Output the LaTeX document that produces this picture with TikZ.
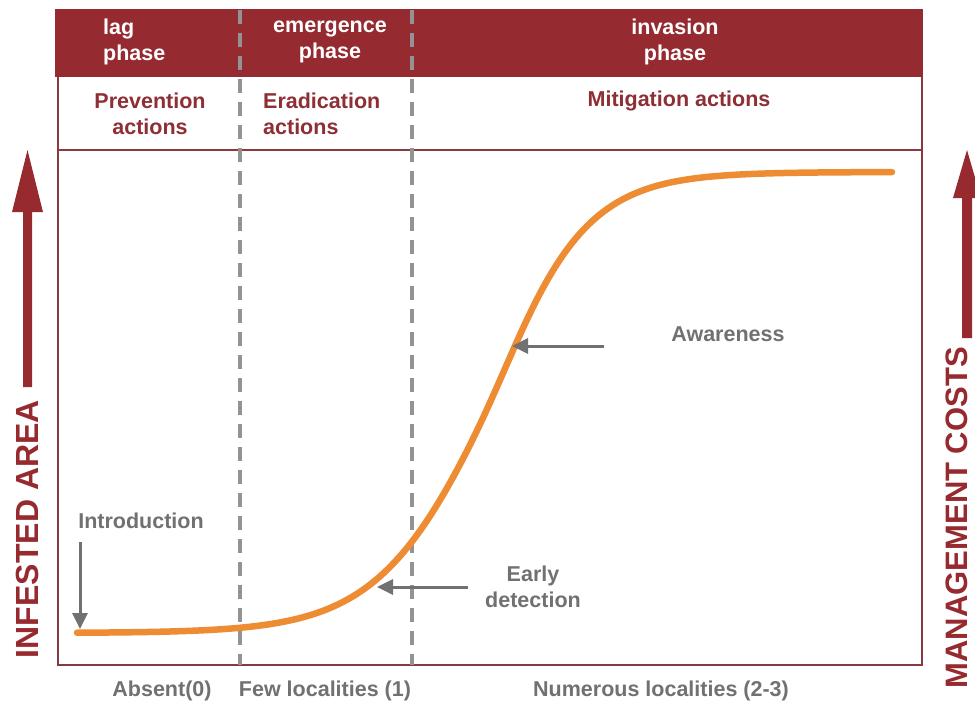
\documentclass[tikz,border=0pt]{standalone}
\usepackage{fontspec}
\setmainfont{Liberation Sans}
\usetikzlibrary{arrows.meta}
\definecolor{hdr}{HTML}{952B31}
\definecolor{frm}{HTML}{8A3A3F}
\definecolor{act}{HTML}{8E2F35}
\definecolor{dsh}{HTML}{939393}
\definecolor{crv}{HTML}{EE8C34}
\definecolor{ann}{HTML}{717171}
\definecolor{bigarr}{HTML}{962A2F}
\begin{document}
\begin{tikzpicture}[x=1pt,y=-1pt,
 txt/.style={font=\fontsize{21.5}{25.5}\selectfont\bfseries, inner sep=0pt, align=center},
 hdrtxt/.style={txt, text=white},
 acttxt/.style={txt, text=act},
 anntxt/.style={txt, text=ann},
 axtxt/.style={font=\fontsize{32}{36}\selectfont\bfseries, inner sep=0pt, rotate=90, text=bigarr},
 pointer/.style={draw=ann, line width=3pt, -{Triangle[length=16pt,width=15pt]}},
 phaseline/.style={draw=dsh, line width=4pt, dash pattern=on 14pt off 9pt},
 frame/.style={draw=frm, line width=2.5pt}]
\useasboundingbox (0,0) rectangle (975,702);
\fill[white] (0,0) rectangle (975,702);
% header band and frame
\fill[hdr] (55,9) rectangle (923,77);
\draw[frame] (58,77) -- (58,665) -- (922,665) -- (922,77);
\draw[frame] (58,150) -- (922,150);
% phase separators
\draw[phaseline] (240,10) -- (240,665);
\draw[phaseline] (412,10) -- (412,665);
% growth curve
\draw[crv, line width=6.5pt, line cap=round] plot[domain=77:892, samples=160, smooth]
  (\x, {633 - 461/(1+exp(-(\x-490)/(52-4*tanh(max(-3,min(3,(\x-490)/40))))))});
% header texts
\node[hdrtxt, align=left, anchor=west] (lag) at (103,42) {lag\\phase};
\node[hdrtxt] (emg) at (330,42) {emergence\\phase};
\node[hdrtxt] (inv) at (675,42) {invasion\\phase};
% action texts
\node[acttxt] (prev) at (150,114) {Prevention\\actions};
\node[acttxt, align=left, anchor=west] (erad) at (263,114) {Eradication\\actions};
\node[acttxt] (mit) at (679,101) {Mitigation actions};
% annotations
\node[anntxt] (intro) at (141,521) {Introduction};
\coordinate (introS) at (80,542);
\coordinate (introE) at (80,629);
\draw[pointer] (introS) -- (introE);
\node[anntxt] (early) at (533,587) {Early\\detection};
\coordinate (earlyS) at (468,587);
\coordinate (earlyE) at (377,587);
\draw[pointer] (earlyS) -- (earlyE);
\node[anntxt] (aware) at (728,334) {Awareness};
\coordinate (awareS) at (604,346);
\coordinate (awareE) at (512,346);
\draw[pointer] (awareS) -- (awareE);
% bottom labels
\node[anntxt] (absent) at (162,691) {Absent(0)};
\node[anntxt] (few) at (325,691) {Few localities (1)};
\node[anntxt] (numerous) at (661,691) {Numerous localities (2-3)};
% axis arrows
\fill[bigarr] (23,387) -- (23,212) -- (12,212) -- (27.5,150) -- (43,212) -- (32,212) -- (32,387) -- cycle;
\fill[bigarr] (962,338) -- (962,198) -- (953,198) -- (967,150) -- (981,198) -- (972,198) -- (972,338) -- cycle;
\node[axtxt, anchor=east] (infest) at (27,400) {INFESTED AREA};
\node[axtxt, anchor=east, font=\fontsize{31}{35}\selectfont\bfseries] (mgmt) at (957,347) {MANAGEMENT COSTS};
\end{tikzpicture}
\end{document}
